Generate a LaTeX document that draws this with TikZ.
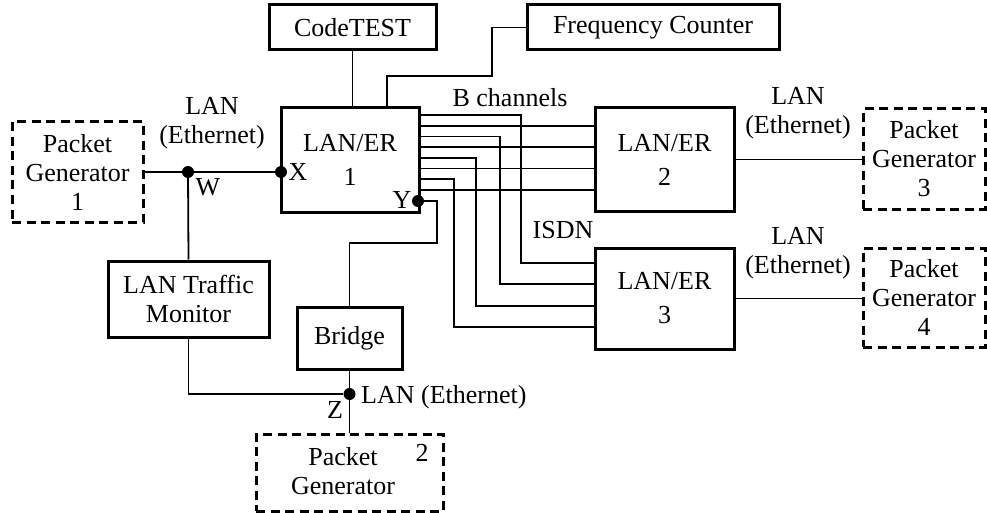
\documentclass[tikz,border=0pt]{standalone}
\usepackage{fontspec}
\setmainfont{Liberation Serif}
\begin{document}
\begin{tikzpicture}[x=1pt,y=-1pt,
  every node/.style={font=\fontsize{26}{29}\selectfont, inner sep=0pt, align=center},
  box/.style={draw, line width=3pt},
  dashbox/.style={draw, line width=3pt, dash pattern=on 9pt off 5.5pt},
  wire/.style={line width=1.8pt},
  dot/.style={circle, fill, inner sep=0pt, minimum size=12pt}]
\useasboundingbox (0,0) rectangle (987,513);

% equipment
\node[box, minimum width=167pt, minimum height=45pt] (codetest) at (352.5,27.5) {CodeTEST};
\node[box, minimum width=252pt, minimum height=45pt] (freq) at (653,27.5) {Frequency Counter};
\node[box, minimum width=138pt, minimum height=104pt] (laner1) at (350,160) {LAN/ER\\[5pt]1};
\node[box, minimum width=139pt, minimum height=103pt] (laner2) at (664.5,159.5) {LAN/ER\\[5pt]2};
\node[box, minimum width=139pt, minimum height=101pt] (laner3) at (664.5,298.5) {LAN/ER\\[5pt]3};
\node[box, minimum width=161pt, minimum height=76pt] (monitor) at (188.5,299) {LAN Traffic\\Monitor};
\node[box, minimum width=105pt, minimum height=62pt] (bridge) at (349.5,338) {Bridge};

% packet generators
\node[dashbox, minimum width=131pt, minimum height=100pt] (pg1) at (77.5,172) {Packet\\Generator\\1};
\node[dashbox, minimum width=122pt, minimum height=100pt] (pg3) at (924,159) {Packet\\Generator\\3};
\node[dashbox, minimum width=122pt, minimum height=99pt] (pg4) at (924,297.5) {Packet\\Generator\\4};
\node[dashbox, minimum width=187pt, minimum height=77pt] (pg2) at (349.5,472.5) {};
\node (pg2text) at (343,471.5) {Packet\\Generator};
\node (pg2num) at (422,453) {2};

% taps
\node[dot] (W) at (188,172) {};
\node[dot] (X) at (281,172) {};
\node[dot] (Y) at (418,201) {};
\node[dot] (Z) at (349.5,394) {};

% LAN segments
\draw[wire] (pg1.east |- X) -- (X);
\draw[wire] (W) -- (monitor.north);
\draw[wire] (monitor.south) |- (Z);
\draw[wire] (bridge.south) -- (pg2.north);
\coordinate (ybend) at (437,243);
\draw[wire] (Y) -| (ybend) -| (bridge.north);
\draw[wire] (laner2.east) -- (pg3.west |- laner2.east);
\draw[wire] (laner3.east) -- (pg4.west |- laner3.east);

% test equipment links
\draw[wire] (codetest.south) -- (codetest.south |- laner1.north);
\coordinate (f1) at (387,108);
\coordinate (f2) at (492,76);
\draw[wire] (f1) |- (f2) |- (freq.west);

% B channels to LAN/ER 2
\foreach \i/\dy in {1/19.3, 2/40.7, 3/62, 4/83.3} {
  \coordinate (a\i) at ([yshift=-\dy pt]laner1.north east);
  \draw[wire] (a\i) -- (a\i -| laner2.west);
}
% ISDN B channels to LAN/ER 3
\foreach \i/\dy/\xx/\yy in {1/8.7/521/263.3, 2/30/500/284.3, 3/51.3/476/306, 4/72.7/454/327.3} {
  \coordinate (s\i) at ([yshift=-\dy pt]laner1.north east);
  \coordinate (t\i) at (\xx,\yy);
  \draw[wire] (s\i) -| (t\i) -- (t\i -| laner3.west);
}

% labels
\node (lan1) at (212,123) {LAN\\(Ethernet)};
\node (lan2) at (798,113) {LAN\\(Ethernet)};
\node (lan3) at (798,253) {LAN\\(Ethernet)};
\node[anchor=west] (lan4) at (361,397) {LAN (Ethernet)};
\node (wl) at (208,187) {W};
\node (xl) at (298,172) {X};
\node (yl) at (402,200) {Y};
\node (zl) at (335,410) {Z};
\node (bch) at (510,98) {B channels};
\node (isdn) at (563,230) {ISDN};
\end{tikzpicture}
\end{document}
